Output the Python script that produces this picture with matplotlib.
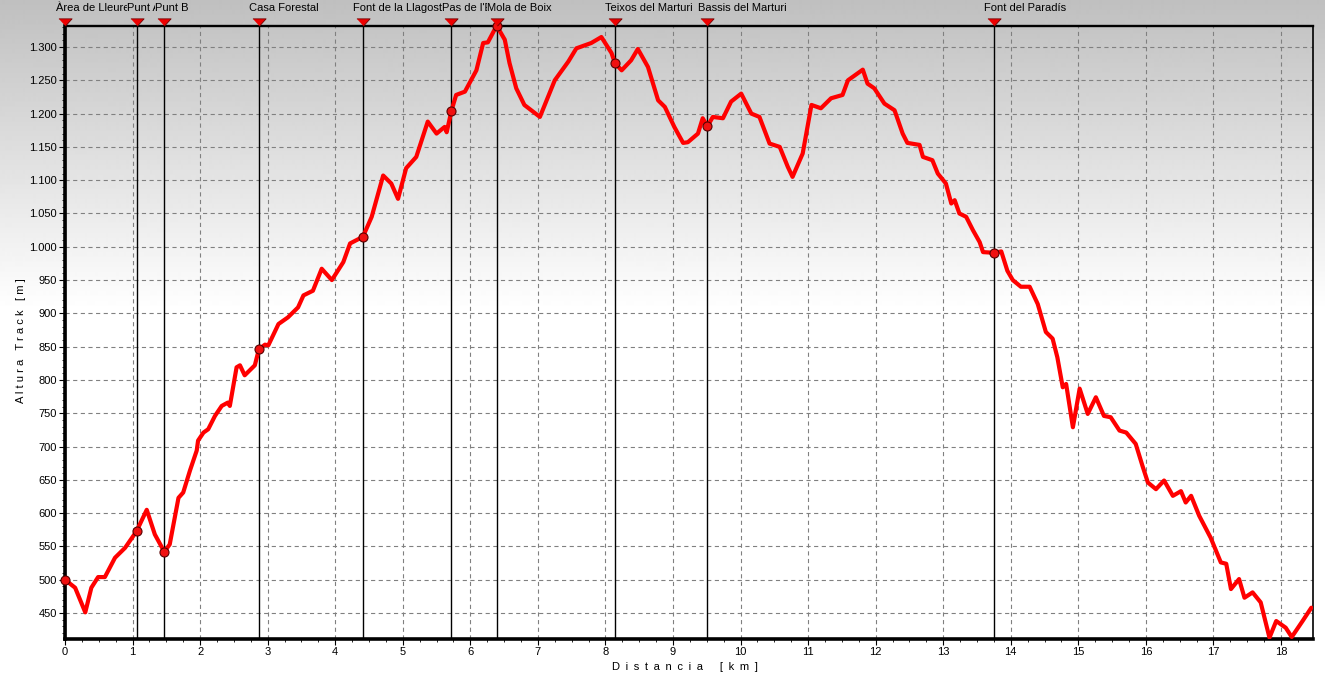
#!/usr/bin/env python3
"""
Elevation profile of the track with named waypoints along the top.
Output: out.png (1325x674)
"""

import numpy as np
import matplotlib
matplotlib.use("Agg")
import matplotlib.pyplot as plt
import matplotlib.transforms as mtransforms
from matplotlib.ticker import MultipleLocator, FuncFormatter

# ── profile (distance km / altitude m) ─────────────────────────────────────
dist_km = [
    0.00, 0.15, 0.30, 0.39, 0.49, 0.59, 0.74, 0.89, 1.06, 1.21,
    1.33, 1.47, 1.55, 1.68, 1.75, 1.85, 1.95, 1.97, 2.05, 2.12,
    2.22, 2.32, 2.41, 2.44, 2.54, 2.59, 2.66, 2.81, 2.87, 2.96,
    3.01, 3.16, 3.30, 3.45, 3.53, 3.67, 3.80, 3.95, 4.12, 4.22,
    4.41, 4.54, 4.71, 4.83, 4.93, 5.05, 5.20, 5.37, 5.50, 5.62,
    5.65, 5.72, 5.79, 5.92, 6.09, 6.19, 6.26, 6.39, 6.51, 6.58,
    6.68, 6.80, 7.03, 7.25, 7.45, 7.57, 7.79, 7.94, 8.09, 8.14,
    8.24, 8.38, 8.48, 8.63, 8.78, 8.88, 9.02, 9.15, 9.22, 9.37,
    9.44, 9.51, 9.59, 9.74, 9.86, 10.01, 10.16, 10.28, 10.43, 10.58,
    10.70, 10.77, 10.92, 11.05, 11.19, 11.34, 11.51, 11.59, 11.81, 11.88,
    11.98, 12.13, 12.28, 12.40, 12.47, 12.65, 12.70, 12.84, 12.92, 13.04,
    13.12, 13.17, 13.24, 13.34, 13.44, 13.54, 13.59, 13.75, 13.86, 13.95,
    14.03, 14.15, 14.28, 14.40, 14.52, 14.62, 14.69, 14.77, 14.82, 14.92,
    15.02, 15.14, 15.26, 15.38, 15.48, 15.61, 15.71, 15.85, 15.95, 16.03,
    16.15, 16.27, 16.40, 16.52, 16.59, 16.67, 16.79, 16.96, 17.11, 17.19,
    17.26, 17.38, 17.46, 17.58, 17.70, 17.83, 17.93, 18.07, 18.16, 18.32,
    18.45,
]
alt_m = [
    500, 488, 451, 488, 504, 504, 533, 548, 573, 605,
    568, 542, 553, 623, 631, 664, 694, 709, 721, 726,
    746, 761, 766, 761, 819, 822, 807, 822, 846, 853,
    852, 884, 894, 909, 927, 934, 967, 950, 977, 1005,
    1015, 1045, 1107, 1095, 1072, 1118, 1135, 1188, 1170, 1180,
    1172, 1204, 1228, 1233, 1265, 1306, 1307, 1332, 1311, 1276,
    1238, 1213, 1195, 1250, 1278, 1298, 1306, 1315, 1291, 1276,
    1265, 1280, 1297, 1270, 1220, 1210, 1180, 1156, 1157, 1170,
    1193, 1181, 1195, 1193, 1218, 1230, 1200, 1195, 1155, 1150,
    1120, 1105, 1140, 1213, 1208, 1223, 1228, 1250, 1266, 1245,
    1238, 1215, 1205, 1170, 1156, 1153, 1135, 1130, 1110, 1095,
    1065, 1070, 1050, 1045, 1025, 1007, 992, 991, 993, 964,
    950, 940, 940, 914, 872, 862, 834, 789, 794, 729,
    787, 749, 774, 746, 744, 724, 721, 704, 671, 646,
    636, 649, 626, 633, 616, 626, 596, 563, 526, 524,
    486, 501, 473, 481, 466, 413, 438, 428, 414, 438,
    458,
]

# ── waypoints ──────────────────────────────────────────────────────────────
wp_names = [
    "Àrea de Lleure", "Punt A", "Punt B", "Casa Forestal",
    "Font de la Llagosta", "Pas de l'Escaleta", "Mola de Boix",
    "Teixos del Marturi", "Bassis del Marturi", "Font del Paradís",
]
wp_km  = [0.0, 1.06, 1.47, 2.87, 4.41, 5.72, 6.39, 8.14, 9.51, 13.75]
wp_alt = [500, 573, 542, 846, 1015, 1204, 1332, 1276, 1181, 991]

X_MAX = 18.47
Y_MIN, Y_MAX = 411, 1332

# ── style ──────────────────────────────────────────────────────────────────
plt.rcParams["font.family"] = ["Liberation Sans", "DejaVu Sans"]
plt.rcParams["font.size"] = 8
plt.rcParams["lines.scale_dashes"] = False

W, H = 1325, 674
fig = plt.figure(figsize=(W / 100, H / 100), dpi=100)

# grey-to-white background over the whole figure
bg = fig.add_axes([0, 0, 1, 1], zorder=-10)
rows = np.arange(H)
shade = np.clip(0.75 + 0.25 * rows / 310, 0, 1)
bg.imshow(np.repeat(shade[:, None], 2, axis=1), cmap="gray", vmin=0, vmax=1,
          aspect="auto", extent=(0, 1, 0, 1), interpolation="bilinear")
bg.set_axis_off()

# plot area in pixels: x 65..1312.7, y 25.7..639
ax = fig.add_axes([65 / W, (H - 639) / H, (1312.7 - 65) / W, (639 - 25.7) / H])
ax.set_facecolor("none")
ax.set_xlim(0, X_MAX)
ax.set_ylim(Y_MIN, Y_MAX)

ax.xaxis.set_major_locator(MultipleLocator(1))
ax.xaxis.set_minor_locator(MultipleLocator(0.25))
ax.yaxis.set_major_locator(MultipleLocator(50))
ax.yaxis.set_minor_locator(MultipleLocator(10))
ax.yaxis.set_major_formatter(FuncFormatter(lambda v, _: f"{v:,.0f}".replace(",", ".")))
ax.tick_params(which="major", direction="out", length=4, width=0.8, pad=2,
               labelsize=8, colors="black")
ax.tick_params(which="minor", direction="out", length=2.2, width=0.6)

ax.grid(True, which="major", color="#808080", linestyle=(0, (3, 2.5)), linewidth=0.8)
ax.set_axisbelow(True)

ax.spines["left"].set_linewidth(2.6)
ax.spines["bottom"].set_linewidth(2.6)
ax.spines["top"].set_linewidth(1.7)
ax.spines["right"].set_linewidth(1.2)

# ── waypoint verticals, profile, dots ──────────────────────────────────────
for x in wp_km:
    ax.axvline(x, color="black", linewidth=1.0, zorder=2)

ax.plot(dist_km, alt_m, color="#ff0000", linewidth=3, zorder=3,
        solid_joinstyle="round", solid_capstyle="round")
ax.plot(wp_km, wp_alt, "o", markersize=6.5, markerfacecolor="#f01010",
        markeredgecolor="#5a0000", markeredgewidth=0.8, zorder=4, clip_on=False)

# flag triangles above the frame
tri = [(-1, 0.55), (1, 0.55), (0, -0.55)]
ax.plot(wp_km, [1.0065] * len(wp_km), transform=ax.get_xaxis_transform(),
        marker=tri, linestyle="none", markersize=9.5, markerfacecolor="#ee0000",
        markeredgecolor="#700000", markeredgewidth=0.6, clip_on=False, zorder=5)

# names, each cut where the next one starts
lab_trans = mtransforms.offset_copy(
    mtransforms.blended_transform_factory(ax.transData, fig.transFigure),
    fig=fig, x=-9.5, y=0, units="dots")
edges = wp_km[1:] + [X_MAX + 5]
for name, x0, x1 in zip(wp_names, wp_km, edges):
    t = fig.text(x0, 1 - 11 / H, name, transform=lab_trans,
                 ha="left", va="baseline", fontsize=8, color="black")
    t.set_clip_box(mtransforms.TransformedBbox(
        mtransforms.Bbox([[x0 - 1, 0], [x1, 1]]), lab_trans))
    t.set_clip_on(True)

# ── axis titles (letter-spaced) ────────────────────────────────────────────
SP = "\u2002"
ylab = "   ".join(" ".join(w) for w in ["Altura", "Track", "[m]"])
xlab = (SP * 3).join(SP.join(w) for w in ["Distancia", "[km]"])
fig.text(20.7 / W, 1 - 341 / H, ylab, rotation=90, ha="center", va="center", fontsize=8)
fig.text(685 / W, 1 - 667 / H, xlab, ha="center", va="center", fontsize=8)

fig.savefig("out.png", dpi=100)
